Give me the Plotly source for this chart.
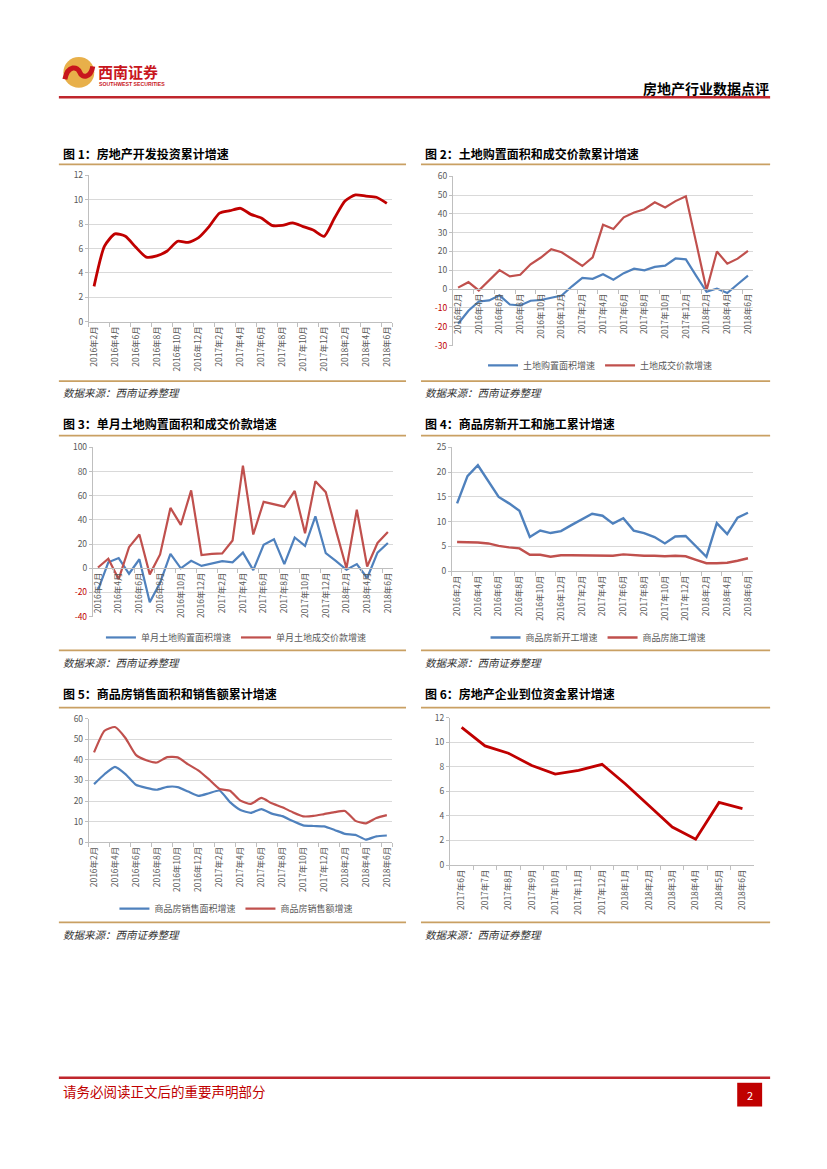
import plotly.graph_objects as go

PAGE_W, PAGE_H = 827, 1169
OFF = 8  # default body margin of the html page
W, H = PAGE_W - 2 * OFF, PAGE_H - 2 * OFF


def X(px):
    return (px - OFF) / W


def Y(py):
    return 1 - (py - OFF) / H


# ---------------- data ----------------
months = ["2016年2月", "2016年3月", "2016年4月", "2016年5月", "2016年6月", "2016年7月",
          "2016年8月", "2016年9月", "2016年10月", "2016年11月", "2016年12月", "2017年1月",
          "2017年2月", "2017年3月", "2017年4月", "2017年5月", "2017年6月", "2017年7月",
          "2017年8月", "2017年9月", "2017年10月", "2017年11月", "2017年12月", "2018年1月",
          "2018年2月", "2018年3月", "2018年4月", "2018年5月", "2018年6月"]
month_ticks = months[::2]

months6 = ["2017年6月", "2017年7月", "2017年8月", "2017年9月", "2017年10月", "2017年11月",
           "2017年12月", "2018年1月", "2018年2月", "2018年3月", "2018年4月", "2018年5月", "2018年6月"]

invest = [2.9, 6.2, 7.2, 7.0, 6.1, 5.3, 5.4, 5.8, 6.6, 6.5, 6.9, 7.8, 8.9, 9.1, 9.3,
          8.8, 8.5, 7.9, 7.9, 8.1, 7.8, 7.5, 7.0, 8.5, 9.9, 10.4, 10.3, 10.2, 9.7]

land_area = [-18.4, -11.5, -6.6, -6.0, -3.3, -8.2, -8.7, -6.2, -5.8, -4.6, -3.4, 1.5, 6.0,
             5.5, 7.9, 5.0, 8.5, 10.9, 10.0, 11.8, 12.5, 16.3, 15.8, 7.0, -1.4, 0.3, -2.1, 2.6, 7.2]
land_value = [0.8, 3.7, -0.7, 4.6, 10.1, 6.8, 7.6, 13.2, 16.8, 21.2, 19.6, 16.0, 12.3,
              16.9, 34.2, 32.0, 38.2, 40.8, 42.5, 46.2, 43.4, 46.8, 49.4, 24.6, -0.5, 20.0, 13.5, 16.2, 20.3]

m_land_area = [-18, 5, 8.5, -4.5, 7.5, -28, -12, 12, 0, 6.2, 2, 3.8, 6, 5, 13, -1.5, 19.5,
               24, 3.5, 25.5, 18.5, 43, 12.5, 6, -1.2, 3.5, -8, 13, 21]
m_land_value = [0.7, 8, -9, 17.5, 28, -5, 11.5, 50, 36, 64.5, 11, 12, 12.3, 23, 85, 28, 55,
                53, 51, 64, 29, 72, 63, 31, 0, 48.5, 1.5, 21, 30]

new_start = [13.7, 19.2, 21.4, 18.2, 15.0, 13.7, 12.2, 6.9, 8.2, 7.7, 8.1, 9.3, 10.4, 11.6,
             11.2, 9.6, 10.7, 8.2, 7.7, 6.9, 5.6, 7.0, 7.1, 5.0, 2.9, 9.7, 7.5, 10.8, 11.8]
construction = [5.9, 5.9, 5.8, 5.6, 5.1, 4.8, 4.6, 3.3, 3.3, 2.9, 3.2, 3.2, 3.2, 3.1, 3.1,
                3.1, 3.4, 3.2, 3.1, 3.1, 3.0, 3.1, 3.0, 2.3, 1.6, 1.6, 1.7, 2.1, 2.6]

sales_area = [28.2, 33.0, 36.6, 33.1, 27.9, 26.4, 25.5, 26.9, 26.8, 24.6, 22.5, 23.8, 25.1,
              19.5, 15.7, 14.3, 16.1, 13.9, 12.7, 10.3, 8.2, 7.9, 7.7, 6.0, 4.1, 3.6, 1.3, 2.9, 3.3]
sales_value = [43.6, 54.1, 55.9, 50.6, 42.4, 39.8, 38.7, 41.3, 41.2, 37.8, 34.8, 30.5, 25.9,
               25.0, 20.2, 18.6, 21.5, 18.9, 17.0, 14.6, 12.6, 12.8, 13.7, 14.6, 15.2, 10.4, 9.2, 11.8, 13.2]

funds = [11.2, 9.7, 9.1, 8.1, 7.4, 7.7, 8.2, 6.6, 4.85, 3.1, 2.1, 5.1, 4.6]

ticks_12 = [0, 2, 4, 6, 8, 10, 12]
ticks_c2 = [-30, -20, -10, 0, 10, 20, 30, 40, 50, 60]
ticks_c3 = [-40, -20, 0, 20, 40, 60, 80, 100]
ticks_c4 = [0, 5, 10, 15, 20, 25]
ticks_c5 = [0, 10, 20, 30, 40, 50, 60]

legend_names = {
    "land_area": "土地购置面积增速", "land_value": "土地成交价款增速",
    "m_land_area": "单月土地购置面积增速", "m_land_value": "单月土地成交价款增速",
    "new_start": "商品房新开工增速", "construction": "商品房施工增速",
    "sales_area": "商品房销售面积增速", "sales_value": "商品房销售额增速",
}

# ---------------- styles ----------------
FONT = "Noto Sans CJK SC"
TICK = "#595959"
AX = "#BFBFBF"
GRID = "#D9D9D9"
DARKRED = "#C00000"
RED = "#C0504D"
BLUE = "#4F81BD"
GOLD = "#C9A063"
HEADRED = "#C0262D"


def tick_text(vals):
    out = []
    for v in vals:
        if v < 0:
            out.append('<span style="color:#C00000">%d</span>' % v)
        else:
            out.append("%d" % v)
    return out


def xcfg(left, right, cats, tickvals, anchor, free_py=None):
    d = dict(domain=[X(left), X(right)], type="category", categoryorder="array",
             categoryarray=cats, range=[-0.5, len(cats) - 0.5], tickmode="array",
             tickvals=tickvals, tickangle=-90,
             tickfont=dict(size=8.5, color=TICK, family=FONT),
             showline=True, linecolor=AX, linewidth=1, ticks="outside", ticklen=4,
             tickcolor=AX, tickson="boundaries", showgrid=False, zeroline=False,
             fixedrange=True)
    if free_py is None:
        d["anchor"] = anchor
    else:
        d["anchor"] = "free"
        d["position"] = Y(free_py)
    return d


def ycfg(top, bottom, rng, vals, anchor):
    return dict(domain=[Y(bottom), Y(top)], range=rng, tickmode="array", tickvals=vals,
                ticktext=tick_text(vals), showgrid=True, gridcolor=GRID, gridwidth=1,
                showline=True, linecolor=AX, linewidth=1, ticks="outside", ticklen=3,
                tickcolor=AX, zeroline=False, anchor=anchor, fixedrange=True,
                tickfont=dict(size=8.5, color=TICK, family=FONT))


fig = go.Figure()

# chart 1
fig.add_trace(go.Scatter(x=months, y=invest, mode="lines", xaxis="x", yaxis="y",
                         line=dict(color=DARKRED, width=2.8, shape="spline", smoothing=0.6),
                         showlegend=False))
# chart 2
fig.add_trace(go.Scatter(x=months, y=land_area, mode="lines", xaxis="x2", yaxis="y2",
                         name=legend_names["land_area"], legend="legend",
                         line=dict(color=BLUE, width=2.2)))
fig.add_trace(go.Scatter(x=months, y=land_value, mode="lines", xaxis="x2", yaxis="y2",
                         name=legend_names["land_value"], legend="legend",
                         line=dict(color=RED, width=2.2)))
# chart 3
fig.add_trace(go.Scatter(x=months, y=m_land_area, mode="lines", xaxis="x3", yaxis="y3",
                         name=legend_names["m_land_area"], legend="legend2",
                         line=dict(color=BLUE, width=2.2)))
fig.add_trace(go.Scatter(x=months, y=m_land_value, mode="lines", xaxis="x3", yaxis="y3",
                         name=legend_names["m_land_value"], legend="legend2",
                         line=dict(color=RED, width=2.2)))
# chart 4
fig.add_trace(go.Scatter(x=months, y=new_start, mode="lines", xaxis="x4", yaxis="y4",
                         name=legend_names["new_start"], legend="legend3",
                         line=dict(color=BLUE, width=2.4)))
fig.add_trace(go.Scatter(x=months, y=construction, mode="lines", xaxis="x4", yaxis="y4",
                         name=legend_names["construction"], legend="legend3",
                         line=dict(color=RED, width=2.4)))
# chart 5
fig.add_trace(go.Scatter(x=months, y=sales_area, mode="lines", xaxis="x5", yaxis="y5",
                         name=legend_names["sales_area"], legend="legend4",
                         line=dict(color=BLUE, width=2.2, shape="spline", smoothing=0.5)))
fig.add_trace(go.Scatter(x=months, y=sales_value, mode="lines", xaxis="x5", yaxis="y5",
                         name=legend_names["sales_value"], legend="legend4",
                         line=dict(color=RED, width=2.2, shape="spline", smoothing=0.5)))
# chart 6
fig.add_trace(go.Scatter(x=months6, y=funds, mode="lines", xaxis="x6", yaxis="y6",
                         line=dict(color=DARKRED, width=2.8), showlegend=False))


def legend_cfg(cx, cy):
    return dict(x=X(cx), y=Y(cy), xanchor="center", yanchor="middle", orientation="h",
                font=dict(size=9, color=TICK, family=FONT), bgcolor="rgba(0,0,0,0)",
                itemwidth=30, tracegroupgap=0)


# ---------------- shapes ----------------
shapes = []


def hline(x0, x1, y, color, width):
    shapes.append(dict(type="line", xref="paper", yref="paper", x0=X(x0), x1=X(x1),
                       y0=Y(y), y1=Y(y), line=dict(color=color, width=width)))


hline(57, 770, 91, HEADRED, 2.5)
hline(57, 770, 1082, HEADRED, 2.5)
for yy in (159, 378, 433, 650, 708, 925):
    hline(57, 405, yy, GOLD, 1.8)
    hline(420, 770, yy, GOLD, 1.8)

# logo
shapes.append(dict(type="circle", xref="paper", yref="paper", x0=X(61.5), x1=X(92.5),
                   y0=Y(81.5), y1=Y(50.5), fillcolor="#E8B04A", line=dict(width=0)))


def ppath(pts):
    s = "M %f,%f" % (X(pts[0][0]), Y(pts[0][1]))
    for i in range(1, len(pts), 3):
        a, b, c = pts[i], pts[i + 1], pts[i + 2]
        s += " C %f,%f %f,%f %f,%f" % (X(a[0]), Y(a[1]), X(b[0]), Y(b[1]), X(c[0]), Y(c[1]))
    return s


shapes.append(dict(type="path", xref="paper", yref="paper",
                   path=ppath([(63, 73), (66, 58), (76, 60), (78, 66),
                               (80, 72), (89, 72), (91, 60)]),
                   line=dict(color="#C8161D", width=5)))
# page number box
shapes.append(dict(type="rect", xref="paper", yref="paper", x0=X(737), x1=X(762),
                   y0=Y(1111), y1=Y(1087), fillcolor="#C00000", line=dict(width=0)))

# ---------------- annotations ----------------
ann = []
PAD = 3  # annotation inner padding


def text(t, x, y, size, color="#000000", bold=False, anchor="left", style="normal", family=FONT):
    dx = -PAD if anchor == "left" else (PAD if anchor == "right" else 0)
    ann.append(dict(text=("<b>%s</b>" % t) if bold else t, x=X(x + dx), y=Y(y), xref="paper",
                    yref="paper", xanchor=anchor, yanchor="middle", showarrow=False,
                    font=dict(size=size, color=color, family=family, style=style)))


text("西南证券", 97, 65, 15, "#C8161D", bold=True)
text("SOUTHWEST SECURITIES", 98, 77.5, 5.2, "#C8161D", bold=True, family="Liberation Sans")
text("房地产行业数据点评", 768, 82, 14, bold=True, anchor="right")

titles = [("图 1：房地产开发投资累计增速", 62, 148), ("图 2：土地购置面积和成交价款累计增速", 425, 148),
          ("图 3：单月土地购置面积和成交价款增速", 62, 421), ("图 4：商品房新开工和施工累计增速", 425, 421),
          ("图 5：商品房销售面积和销售额累计增速", 62, 694), ("图 6：房地产企业到位资金累计增速", 425, 694)]
for t, x, y in titles:
    text(t, x, y, 12, bold=True)

for x, y in [(62, 389), (425, 389), (62, 662), (425, 662), (62, 937), (425, 937)]:
    text("数据来源：西南证券整理", x, y, 10.5, "#333333", style="italic")

text("请务必阅读正文后的重要声明部分", 62, 1095, 13.5, "#C00000")
text("2", 749.5, 1099, 11, "#FFFFFF", anchor="center")

fig.update_layout(
    width=W, height=H, margin=dict(l=0, r=0, t=0, b=0),
    paper_bgcolor="white", plot_bgcolor="white",
    font=dict(family=FONT, color=TICK),
    xaxis=xcfg(87, 391, months, month_ticks, "y"),
    yaxis=ycfg(170, 318, [0, 12], ticks_12, "x"),
    xaxis2=xcfg(452, 753, months, month_ticks, "y2", free_py=285),
    yaxis2=ycfg(171, 342, [-30, 60], ticks_c2, "x2"),
    xaxis3=xcfg(91, 392, months, month_ticks, "y3", free_py=567),
    yaxis3=ycfg(445, 616, [-40, 100], ticks_c3, "x3"),
    xaxis4=xcfg(451, 753, months, month_ticks, "y4"),
    yaxis4=ycfg(445, 570, [0, 25], ticks_c4, "x4"),
    xaxis5=xcfg(87, 391, months, month_ticks, "y5"),
    yaxis5=ycfg(719, 844, [0, 60], ticks_c5, "x5"),
    xaxis6=xcfg(449, 754, months6, months6, "y6"),
    yaxis6=ycfg(718, 867, [0, 12], ticks_12, "x6"),
    legend=legend_cfg(600, 362),
    legend2=legend_cfg(235, 637),
    legend3=legend_cfg(598, 637),
    legend4=legend_cfg(235, 911),
    shapes=shapes,
    annotations=ann,
)

fig.write_html("out.html", config={"displayModeBar": False})
